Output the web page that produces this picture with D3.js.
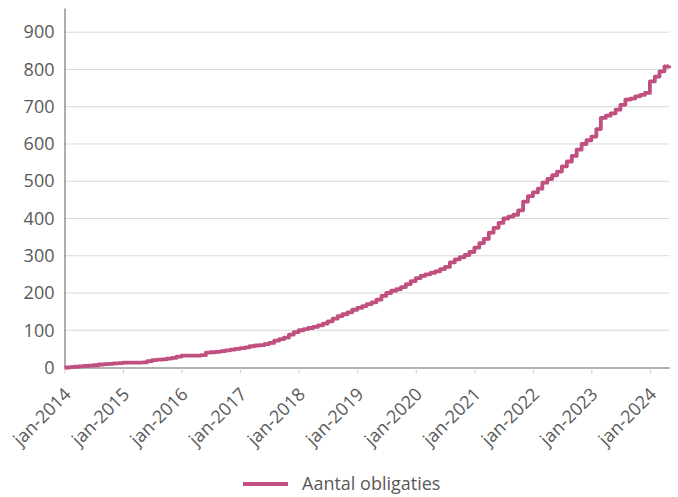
<!DOCTYPE html>
<html>
<head>
<meta charset="utf-8">
<script src="https://cdn.jsdelivr.net/npm/d3@7"></script>
<style>
  html, body { margin: 0; padding: 0; background: #fff; }
  svg { display: block; font-family: "Open Sans", Lato, sans-serif; }
</style>
</head>
<body>
<svg id="chart" width="678" height="497"></svg>
<script>
// Monthly cumulative counts, starting jan-2014
const startYear = 2014;
const seriesName = "Aantal obligaties";
const values2014 = [0, 1, 2, 3, 4, 5, 6, 8, 9, 10, 11, 12];
const values2015 = [13, 13, 13, 13, 14, 17, 20, 21, 22, 24, 26, 29];
const values2016 = [32, 32, 32, 32, 33, 40, 41, 42, 44, 46, 48, 50];
const values2017 = [52, 54, 57, 59, 60, 63, 66, 72, 76, 80, 88, 95];
const values2018 = [100, 103, 106, 109, 113, 118, 124, 131, 138, 143, 148, 155];
const values2019 = [160, 165, 170, 175, 182, 192, 200, 206, 210, 216, 224, 232];
const values2020 = [240, 246, 250, 254, 258, 264, 270, 282, 290, 296, 302, 310];
const values2021 = [322, 334, 345, 362, 375, 388, 400, 405, 410, 422, 445, 460];
const values2022 = [470, 480, 496, 506, 516, 526, 540, 553, 568, 585, 600, 610];
const values2023 = [620, 640, 670, 676, 682, 692, 705, 719, 722, 728, 732, 737];
const values2024 = [768, 781, 795, 808, 810];
const yTicks = [0, 100, 200, 300, 400, 500, 600, 700, 800, 900];
const xTickYears = [2014, 2015, 2016, 2017, 2018, 2019, 2020, 2021, 2022, 2023, 2024];

const allValues = [].concat(values2014, values2015, values2016, values2017, values2018,
  values2019, values2020, values2021, values2022, values2023, values2024);
const data = allValues.map((v, i) => ({ date: new Date(startYear, i, 1), value: v }));

const svg = d3.select("#chart");
const mLeft = 64.5, mRight = 669.3, mTop = 8, mBottom = 367.5;

const x = d3.scaleTime()
  .domain([new Date(2014, 0, 1), new Date(2024, 4, 1)])
  .range([mLeft, mRight]);
const y = d3.scaleLinear().domain([0, 965]).range([mBottom, mTop]);

const textColor = "#595959";
const fontFam = "'Open Sans', Lato, sans-serif";
const fontSize = "18px";

// gridlines
svg.append("g")
  .selectAll("line")
  .data(yTicks.filter(d => d > 0))
  .join("line")
  .attr("x1", mLeft).attr("x2", mRight)
  .attr("y1", d => y(d)).attr("y2", d => y(d))
  .attr("stroke", "#d9d9d9").attr("stroke-width", 1);

// y axis
const yAxis = svg.append("g")
  .attr("transform", `translate(${mLeft},0)`)
  .call(d3.axisLeft(y).tickValues(yTicks).tickSize(0).tickPadding(10));
yAxis.select(".domain").attr("stroke", "#777").attr("stroke-width", 1.2);
yAxis.selectAll("text").attr("fill", textColor).style("font-size", fontSize)
  .style("font-family", fontFam);

// x axis
const xAxis = svg.append("g")
  .attr("transform", `translate(0,${mBottom})`)
  .call(d3.axisBottom(x)
    .tickValues(xTickYears.map(yr => new Date(yr, 0, 1)))
    .tickSize(6)
    .tickSizeOuter(0)
    .tickFormat(d => "jan-" + d.getFullYear()));
xAxis.select(".domain").attr("stroke", "#666").attr("stroke-width", 1.2);
xAxis.selectAll(".tick line").attr("stroke", "#d0d0d0");
xAxis.selectAll("text")
  .attr("fill", textColor)
  .attr("x", 0).attr("y", 0).attr("dy", 0)
  .attr("transform", "translate(7,28) rotate(-45)")
  .style("text-anchor", "end")
  .style("font-size", fontSize)
  .style("font-family", fontFam);

// line
const lineColor = "#c0507f";
const line = d3.line()
  .x(d => x(d.date))
  .y(d => y(d.value))
  .curve(d3.curveStepAfter);
svg.append("path")
  .datum(data)
  .attr("d", line)
  .attr("fill", "none")
  .attr("stroke", lineColor)
  .attr("stroke-width", 3.8)
  .attr("stroke-linejoin", "round");

// legend
const lg = svg.append("g");
lg.append("line").attr("x1", 243).attr("x2", 288).attr("y1", 484).attr("y2", 484)
  .attr("stroke", lineColor).attr("stroke-width", 4);
lg.append("text").attr("x", 302).attr("y", 490)
  .attr("fill", textColor).style("font-size", fontSize).style("font-family", fontFam)
  .text(seriesName);
</script>
</body>
</html>
